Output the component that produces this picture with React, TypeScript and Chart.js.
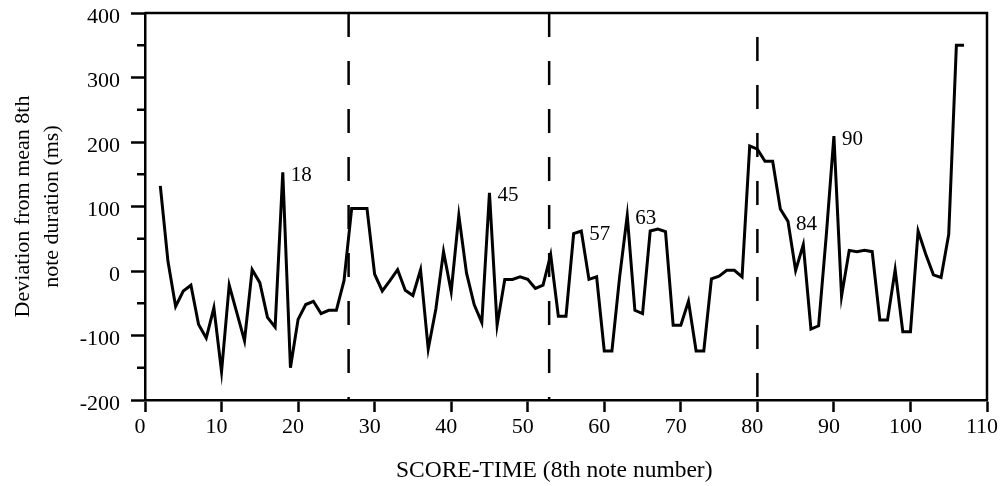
import React, { useEffect, useRef } from "react";
import { Chart, registerables } from "chart.js";

Chart.register(...registerables);

const notes = [
  2, 3, 4, 5, 6, 7, 8, 9, 10, 11, 12, 13, 14, 15, 16, 17, 18, 19, 20, 21,
  22, 23, 24, 25, 26, 27, 28, 29, 30, 31, 32, 33, 34, 35, 36, 37, 38, 39, 40, 41,
  42, 43, 44, 45, 46, 47, 48, 49, 50, 51, 52, 53, 54, 55, 56, 57, 58, 59, 60, 61,
  62, 63, 64, 65, 66, 67, 68, 69, 70, 71, 72, 73, 74, 75, 76, 77, 78, 79, 80, 81,
  82, 83, 84, 85, 86, 87, 88, 89, 90, 91, 92, 93, 94, 95, 96, 97, 98, 99, 100, 101,
  102, 103, 104, 105, 106, 107,
];

const deviations = [
  132, 15, -55, -31, -22, -83, -104, -57, -156, -22, -65, -108, 2, -18, -72, -87, 153, -150, -75, -52,
  -47, -66, -61, -61, -15, 97, 97, 97, -5, -31, -15, 2, -30, -38, 2, -121, -59, 30, -32, 86,
  -3, -52, -80, 121, -84, -13, -13, -9, -13, -27, -22, 25, -70, -70, 58, 62, -13, -9, -124, -124,
  -10, 86, -61, -66, 62, 65, 61, -84, -84, -47, -124, -124, -12, -8, 1, 1, -9, 194, 189, 170,
  170, 96, 77, 1, 41, -90, -85, 55, 209, -39, 32, 30, 32, 30, -76, -76, 2, -94, -94, 62,
  26, -6, -10, 57, 350, 350,
];

const sectionBoundaries = [26.6, 52.8, 80];
const boundaryDashOffsets = [0, 0, 24];
const annotatedNotes = [18, 45, 57, 63, 84, 90];
const yMinorTicks = [-150, -50, 50, 150, 250, 350];

const FONT = "'Liberation Serif', 'Times New Roman', serif";

const overlayPlugin = {
  id: "overlay",
  afterDraw(chart: any) {
    const { ctx, chartArea: a, scales } = chart;
    const x = scales.x;
    const y = scales.y;
    ctx.save();
    ctx.strokeStyle = "#000";
    ctx.lineWidth = 2.5;
    ctx.beginPath();
    ctx.moveTo(a.left, a.top);
    ctx.lineTo(a.right, a.top);
    ctx.lineTo(a.right, a.bottom);
    ctx.stroke();
    yMinorTicks.forEach((v) => {
      const py = y.getPixelForValue(v);
      ctx.beginPath();
      ctx.moveTo(a.left - 8, py);
      ctx.lineTo(a.left, py);
      ctx.stroke();
    });
    ctx.fillStyle = "#000";
    ctx.font = `21px ${FONT}`;
    ctx.textAlign = "left";
    ctx.textBaseline = "middle";
    annotatedNotes.forEach((n) => {
      const v = deviations[notes.indexOf(n)];
      ctx.fillText(String(n), x.getPixelForValue(n) + 8, y.getPixelForValue(v) + 3);
    });
    ctx.restore();
  },
};

export default function App() {
  const ref = useRef<HTMLCanvasElement | null>(null);
  useEffect(() => {
    if (!ref.current) return;
    const mainData = notes.map((n, i) => ({ x: n, y: deviations[i] }));
    const boundarySets = sectionBoundaries.map((b, i) => ({
      data: [
        { x: b, y: 400 },
        { x: b, y: -200 },
      ],
      borderColor: "#000",
      borderWidth: 2.5,
      borderDash: [24, 24],
      borderDashOffset: boundaryDashOffsets[i],
      pointRadius: 0,
      tension: 0,
    }));
    const chart = new Chart(ref.current, {
      type: "line",
      data: {
        datasets: [
          {
            data: mainData,
            borderColor: "#000",
            borderWidth: 3,
            pointRadius: 0,
            tension: 0,
            borderJoinStyle: "miter",
          },
          ...boundarySets,
        ] as any,
      },
      options: {
        animation: false,
        responsive: false,
        layout: { padding: { top: 13, right: 13, left: 0, bottom: 0 } },
        plugins: { legend: { display: false }, tooltip: { enabled: false } },
        scales: {
          x: {
            type: "linear",
            min: 0,
            max: 110,
            afterFit(scale: any) {
              scale.height = 86;
              scale.paddingLeft = 0;
              scale.paddingRight = 0;
            },
            ticks: {
              stepSize: 10,
              autoSkip: false,
              maxRotation: 0,
              color: "#000",
              padding: 2,
              labelOffset: -5,
              font: { family: FONT, size: 22 },
            },
            grid: {
              display: true,
              drawOnChartArea: false,
              drawTicks: true,
              tickLength: 12,
              tickWidth: 2.5,
              tickColor: "#000",
            },
            border: { display: true, color: "#000", width: 2.5 },
            title: {
              display: true,
              text: "SCORE-TIME (8th note number)    ",
              color: "#000",
              font: { family: FONT, size: 23.5, lineHeight: 1.2 },
              padding: { top: 0, bottom: 1 },
            },
          },
          y: {
            type: "linear",
            min: -200,
            max: 400,
            afterFit(scale: any) {
              scale.width = 145;
              scale.paddingTop = 0;
              scale.paddingBottom = 0;
            },
            ticks: {
              stepSize: 100,
              color: "#000",
              padding: 11,
              labelOffset: 4,
              font: { family: FONT, size: 22, lineHeight: 1.0 },
            },
            grid: {
              display: true,
              drawOnChartArea: false,
              drawTicks: true,
              tickLength: 14,
              tickWidth: 2.5,
              tickColor: "#000",
            },
            border: { display: true, color: "#000", width: 2.5 },
            title: {
              display: true,
              text: ["Deviation from mean 8th", "note duration (ms)"],
              color: "#000",
              font: { family: FONT, size: 22, lineHeight: 1.3 },
              padding: { top: 9, bottom: 0 },
            },
          },
        },
      },
      plugins: [overlayPlugin],
    } as any);
    return () => chart.destroy();
  }, []);
  return (
    <div style={{ position: "fixed", left: 0, top: 0, width: 1000, height: 486, background: "#fff" }}>
      <canvas ref={ref} width={1000} height={486} style={{ display: "block" }} />
    </div>
  );
}
